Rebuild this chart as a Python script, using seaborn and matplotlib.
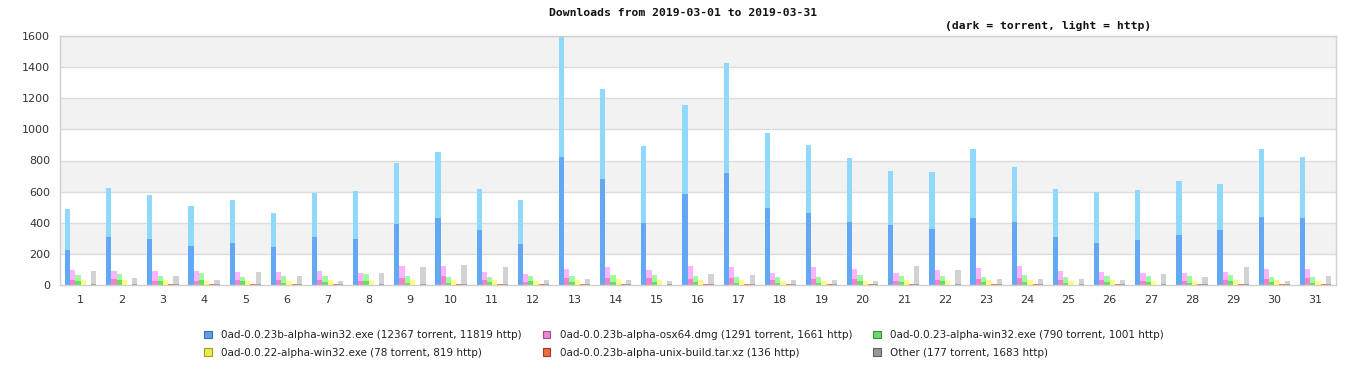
import matplotlib
matplotlib.use("Agg")
import matplotlib.pyplot as plt
from matplotlib.patches import Patch
import seaborn as sns
import pandas as pd

days = [str(d) for d in range(1, 32)]

series = [
    "0ad-0.0.23b-alpha-win32.exe (12367 torrent, 11819 http)",
    "0ad-0.0.23b-alpha-osx64.dmg (1291 torrent, 1661 http)",
    "0ad-0.0.23-alpha-win32.exe (790 torrent, 1001 http)",
    "0ad-0.0.22-alpha-win32.exe (78 torrent, 819 http)",
    "0ad-0.0.23b-alpha-unix-build.tar.xz (136 http)",
    "Other (177 torrent, 1683 http)",
]

# totals (torrent + http) per day
win23b_total = [489, 624, 579, 508, 547, 463, 592, 604, 784, 855, 617, 547, 1596, 1260, 894, 1157,
                 1427, 977, 900, 817, 733, 727, 874, 759, 617, 598, 611, 669, 649, 874, 823]
win23b_torrent = [225, 309, 296, 251, 270, 244, 309, 296, 392, 431, 354, 264, 823, 682, 399, 585,
                  720, 495, 463, 405, 386, 360, 431, 405, 309, 270, 289, 322, 354, 437, 431]
osx_total = [96, 90, 90, 90, 83, 83, 90, 77, 122, 122, 83, 71, 103, 116, 96, 122,
             116, 77, 116, 103, 77, 96, 109, 122, 90, 83, 77, 77, 83, 103, 103]
osx_torrent = [32, 39, 26, 26, 32, 32, 32, 26, 45, 58, 32, 19, 45, 45, 45, 39,
               45, 32, 39, 39, 26, 32, 39, 45, 32, 32, 26, 26, 32, 39, 45]
win23_total = [64, 71, 58, 77, 51, 58, 58, 71, 58, 51, 51, 58, 58, 64, 64, 58,
               51, 51, 51, 64, 58, 58, 51, 64, 51, 58, 58, 58, 64, 51, 51]
win23_torrent = [26, 32, 26, 32, 26, 13, 19, 26, 13, 13, 19, 26, 19, 19, 19, 19,
                 13, 13, 13, 26, 19, 26, 19, 19, 13, 19, 19, 13, 26, 19, 13]
win22_total = [32, 32, 32, 26, 26, 26, 32, 26, 32, 32, 32, 26, 32, 39, 32, 32,
               32, 26, 26, 26, 32, 26, 32, 32, 26, 32, 26, 26, 32, 32, 26]
win22_torrent = [2, 3, 2, 3, 2, 2, 3, 2, 3, 3, 2, 3, 2, 3, 2, 3,
                 2, 3, 2, 3, 2, 3, 2, 3, 2, 3, 2, 3, 2, 3, 2]
unix_total = [0, 0, 6, 6, 6, 6, 6, 0, 0, 6, 6, 6, 6, 6, 0, 6,
              6, 6, 6, 6, 6, 0, 6, 6, 0, 6, 0, 6, 6, 6, 6]
unix_torrent = [0] * 31
other_total = [90, 45, 58, 32, 83, 58, 26, 77, 116, 128, 116, 32, 39, 32, 26, 71,
               64, 32, 32, 26, 122, 96, 39, 39, 39, 32, 71, 51, 116, 26, 58]
other_torrent = [5, 5, 6, 5, 6, 5, 6, 5, 6, 6, 5, 6, 5, 6, 5, 6,
                 6, 5, 6, 5, 6, 5, 6, 5, 6, 5, 6, 5, 6, 5, 6]

totals = [win23b_total, osx_total, win23_total, win22_total, unix_total, other_total]
torrents = [win23b_torrent, osx_torrent, win23_torrent, win22_torrent, unix_torrent, other_torrent]

light = ["#90d8fc", "#fcb4fc", "#a0fa9e", "#ffff80", "#ff6a40", "#d2d2d2"]
dark = ["#62a8f2", "#f282cc", "#66de66", "#e6e650", "#ff6a40", "#989898"]
legend_face = ["#5ea2e8", "#e888d8", "#6cd86c", "#ecec50", "#f06844", "#989898"]
legend_edge = ["#3a70b0", "#a05090", "#3a903a", "#a0a020", "#a03a20", "#606060"]

rows = []
for s, tot, tor in zip(series, totals, torrents):
    for d, a, b in zip(days, tot, tor):
        rows.append({"day": d, "series": s, "total": a, "torrent": b})
df = pd.DataFrame(rows)

sns.set_style("white")
plt.rcParams["font.family"] = ["DejaVu Sans"]

fig = plt.figure(figsize=(13.66, 3.80), dpi=100)
ax = fig.add_axes([60 / 1366, 1 - 285 / 380, 1276 / 1366, 249 / 380])

# background bands
for lo in range(200, 1600, 400):
    ax.axhspan(lo, lo + 200, color="#f2f2f2", zorder=0, lw=0)
for y in range(200, 1601, 200):
    ax.axhline(y, color="#dcdcdc", lw=1, zorder=0.5)

common = dict(x="day", hue="series", order=days, hue_order=series, errorbar=None,
              width=0.76, dodge=True, gap=0, legend=False, saturation=1, ax=ax, linewidth=0)
sns.barplot(data=df, y="total", palette=light, **common)
sns.barplot(data=df, y="torrent", palette=dark, **common)

ax.set_ylim(0, 1600)
ax.set_xlim(-0.5, 30.5)
ax.set_yticks(range(0, 1601, 200))
ax.set_xlabel("")
ax.set_ylabel("")
ax.tick_params(axis="both", length=0, labelsize=8, colors="#333333", pad=7)
for sp in ax.spines.values():
    sp.set_color("#d0d0d0")
    sp.set_linewidth(1)

fig.text(0.5, 0.965, "Downloads from 2019-03-01 to 2019-03-31", ha="center", va="center",
         family="DejaVu Sans Mono", fontweight="bold", fontsize=8.2, color="#111111")
fig.text(1048 / 1366, 1 - 26 / 380, "(dark = torrent, light = http)", ha="center", va="center",
         family="DejaVu Sans Mono", fontweight="bold", fontsize=8.2, color="#111111")

handles = [Patch(facecolor=f, edgecolor=e, linewidth=0.8) for f, e in zip(legend_face, legend_edge)]
# reorder for row-wise filling with ncol=3
order_idx = [0, 3, 1, 4, 2, 5]
fig.legend([handles[i] for i in order_idx], [series[i] for i in order_idx],
           ncol=3, loc="center", bbox_to_anchor=(684 / 1366, 1 - 344 / 380),
           frameon=False, fontsize=7.5, handlelength=0.75, handleheight=0.75,
           handletextpad=0.9, columnspacing=2.0, labelspacing=0.75,
           labelcolor="#222222")

fig.savefig("out.png", dpi=100)
